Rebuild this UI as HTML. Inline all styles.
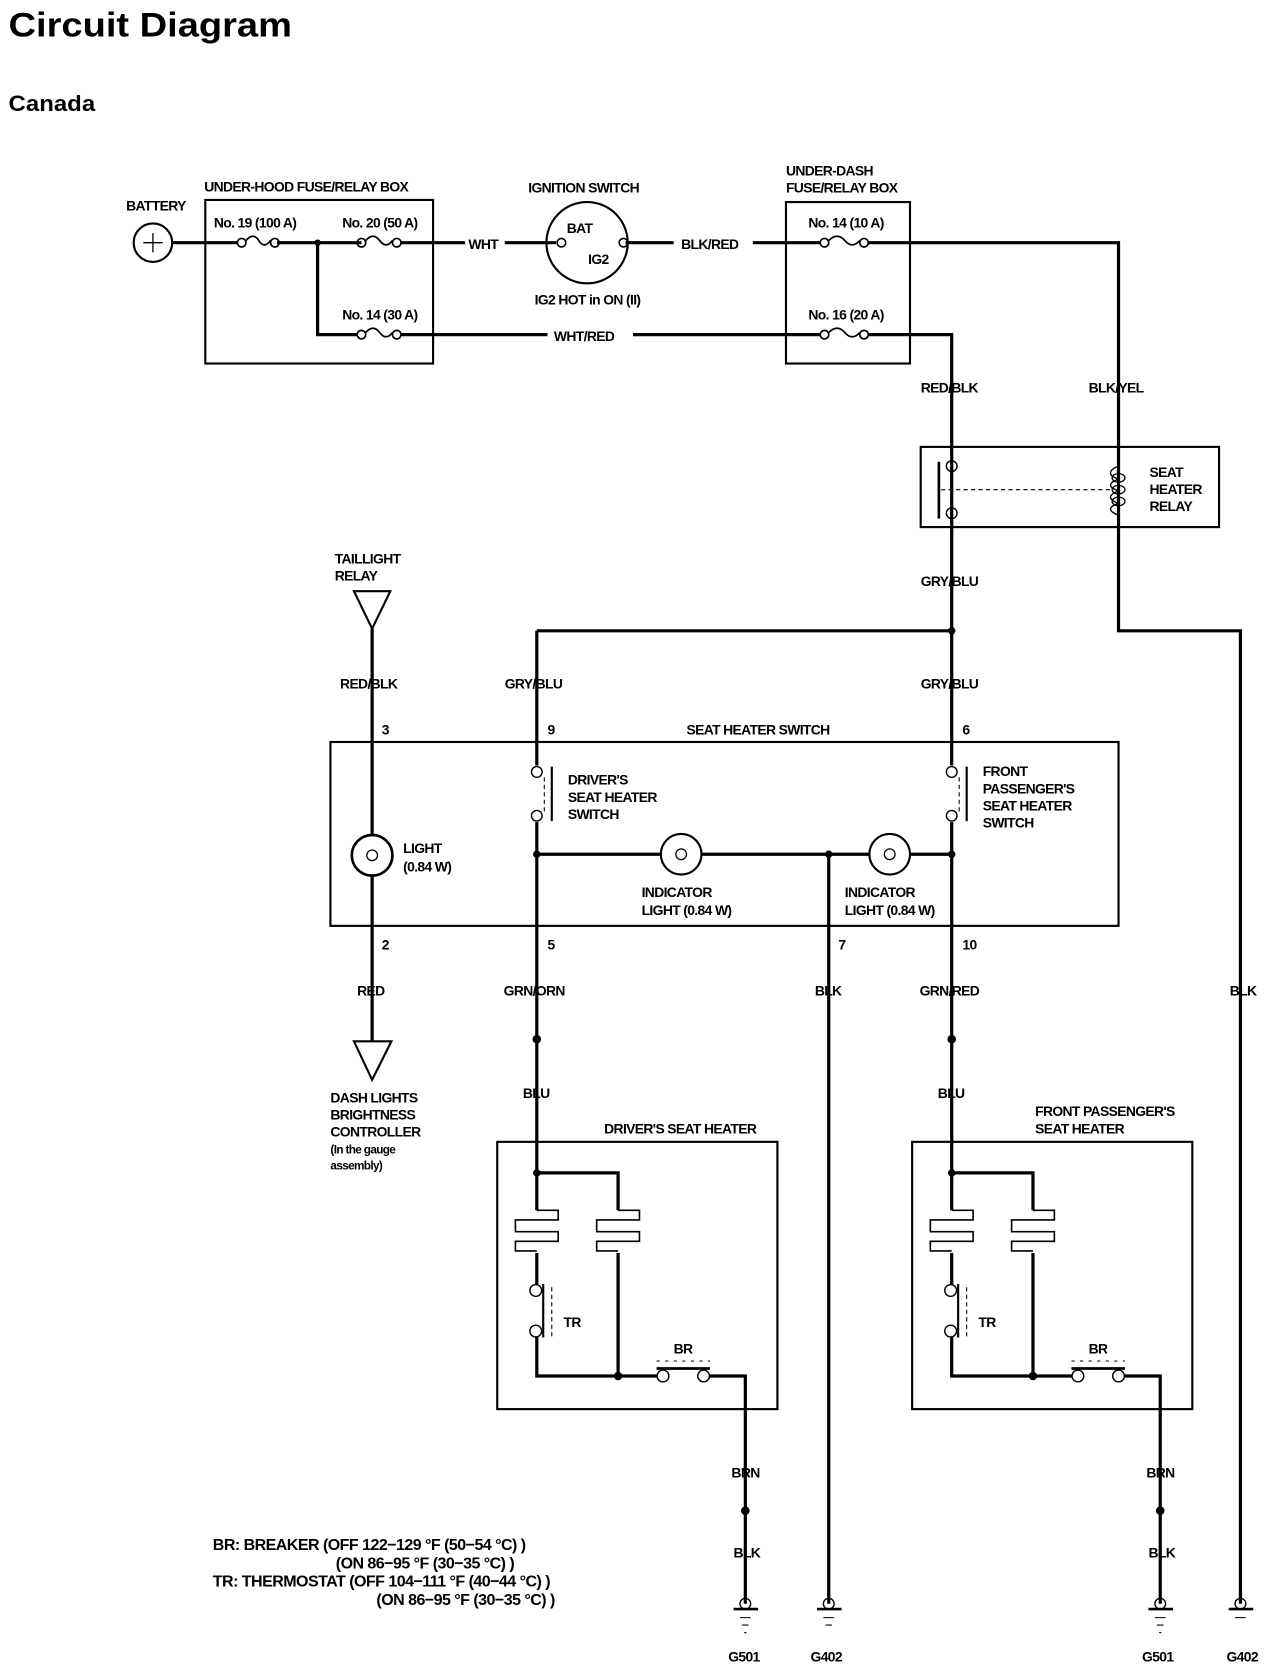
<!DOCTYPE html>
<html><head><meta charset="utf-8"><style>
html,body{margin:0;padding:0;background:#fff;}
svg{display:block;}
text{font-family:"Liberation Sans Narrow","Liberation Sans",sans-serif;font-weight:bold;fill:#000;}
.l{font-size:13px;letter-spacing:-0.6px;}
</style></head><body>
<svg width="1280" height="1670" viewBox="0 0 1197 1562" preserveAspectRatio="none" xmlns="http://www.w3.org/2000/svg">
<g fill="none" stroke="#000">
<text x="8" y="34" style="font-size:32px" textLength="265" lengthAdjust="spacingAndGlyphs" stroke="none">Circuit Diagram</text>
<text x="8" y="104" style="font-size:21px" textLength="81" lengthAdjust="spacingAndGlyphs" stroke="none">Canada</text>

<!-- battery -->
<circle cx="143" cy="227" r="18" stroke-width="2"/>
<path d="M134 227H152M143 218V236" stroke-width="1.2"/>
<path d="M161 227H222M259 227H338M375 227H435" stroke-width="3"/>
<!-- underhood box -->
<rect x="192" y="187" width="213" height="153" stroke-width="2"/>
<!-- fuses -->
<g stroke-width="1.6">
<circle cx="226" cy="227" r="4"/><circle cx="257" cy="227" r="4"/><path d="M230 225q7 -8 12 0t11 0"/>
<circle cx="338" cy="227" r="4"/><circle cx="371" cy="227" r="4"/><path d="M342 225q7 -8 13 0t12 0"/>
<circle cx="338" cy="313" r="4"/><circle cx="371" cy="313" r="4"/><path d="M342 311q7 -8 13 0t12 0"/>
<circle cx="771" cy="227" r="4"/><circle cx="808" cy="227" r="4"/><path d="M775 225q8 -8 15 0t14 0"/>
<circle cx="771" cy="313" r="4"/><circle cx="808" cy="313" r="4"/><path d="M775 311q8 -8 15 0t14 0"/>
</g>
<circle cx="297" cy="227" r="2.5" fill="#000"/>
<path d="M297 227V313H334M375 313H512M592 313H767M812 313H890V590" stroke-width="3"/>
<path d="M472 227H520M585 227H630M704 227H767M812 227H1046V590H1160V1500" stroke-width="3"/>
<!-- ignition -->
<circle cx="549" cy="227" r="38" stroke-width="2"/>
<circle cx="525" cy="227" r="4" stroke-width="1.5"/><circle cx="583" cy="227" r="4" stroke-width="1.5"/>
<!-- underdash box -->
<rect x="735" y="189" width="116" height="151" stroke-width="2"/>
<!-- relay -->
<rect x="861" y="418" width="279" height="75" stroke-width="2"/>
<circle cx="890" cy="436" r="5" stroke-width="1.3"/><circle cx="890" cy="480" r="5" stroke-width="1.3"/>
<path d="M878 432V485" stroke-width="2.5"/>
<path d="M880 458H1040" stroke-width="1" stroke-dasharray="4 3"/>
<path d="M1046 436C1036 440 1036 445 1046 448C1036 452 1036 456 1046 459C1036 463 1036 467 1046 471C1036 474 1036 478 1046 482" stroke-width="1.3"/>
<ellipse cx="1046" cy="447" rx="6" ry="4" stroke-width="1.2"/><ellipse cx="1046" cy="458" rx="6" ry="4" stroke-width="1.2"/><ellipse cx="1046" cy="469" rx="6" ry="4" stroke-width="1.2"/>
<!-- main -->
<path d="M502 590H890" stroke-width="3"/>
<circle cx="890" cy="590" r="3" fill="#000"/>
<path d="M502 590V716M502 769V1095M890 716V590M890 769V1095" stroke-width="3"/>
<!-- taillight -->
<path d="M331 553H365L348 588Z" stroke-width="2"/>
<path d="M348 588V974" stroke-width="3"/>
<path d="M331 974H366L348 1010Z" stroke-width="2"/>
<!-- switch box -->
<rect x="309" y="694" width="737" height="172" stroke-width="2"/>
<circle cx="348" cy="800" r="19" stroke-width="2.5" fill="#fff"/>
<circle cx="348" cy="800" r="5" stroke-width="1.2"/>
<g stroke-width="1.3"><circle cx="502" cy="722" r="5" fill="#fff"/><circle cx="502" cy="763" r="5" fill="#fff"/><circle cx="890" cy="722" r="5" fill="#fff"/><circle cx="890" cy="763" r="5" fill="#fff"/></g>
<path d="M516 717V768M904 717V768" stroke-width="2"/>
<path d="M509 727V760M897 727V760" stroke-width="1" stroke-dasharray="4 3"/>
<path d="M502 799H890" stroke-width="3"/>
<circle cx="502" cy="799" r="3" fill="#000"/><circle cx="775" cy="799" r="3" fill="#000"/><circle cx="890" cy="799" r="3" fill="#000"/>
<circle cx="637" cy="799" r="19" stroke-width="2" fill="#fff"/><circle cx="637" cy="799" r="5" stroke-width="1.2"/>
<circle cx="832" cy="799" r="19" stroke-width="2" fill="#fff"/><circle cx="832" cy="799" r="5" stroke-width="1.2"/>
<path d="M775 799V1500" stroke-width="3"/>
<circle cx="502" cy="972" r="3.5" fill="#000"/><circle cx="890" cy="972" r="3.5" fill="#000"/>

<!-- heaters -->
<g id="h">
<rect x="465" y="1068" width="262" height="250" stroke-width="2"/>
<circle cx="502" cy="1097" r="3" fill="#000"/>
<path d="M502 1095V1132M502 1097H578V1132M502 1172V1202M502 1251V1287H614M578 1172V1287M662 1287H697V1500" stroke-width="3"/>
<path d="M502 1132H522V1141H482V1152H522V1161H482V1170H502M578 1132H598V1141H558V1152H598V1161H558V1170H578" stroke-width="1.5"/>
<circle cx="578" cy="1287" r="3.5" fill="#000"/>
<circle cx="501" cy="1207" r="5.5" stroke-width="1.3"/><circle cx="501" cy="1245" r="5.5" stroke-width="1.3"/>
<path d="M508 1201V1251" stroke-width="2"/>
<path d="M516 1204V1252" stroke-width="1" stroke-dasharray="4 3"/>
<circle cx="620" cy="1287" r="5.5" stroke-width="1.3" fill="#fff"/><circle cx="658" cy="1287" r="5.5" stroke-width="1.3" fill="#fff"/>
<path d="M614 1280H664" stroke-width="2.5"/>
<path d="M614 1273H664" stroke-width="1" stroke-dasharray="3 5"/>
<circle cx="697" cy="1413" r="3.5" fill="#000"/>
<circle cx="697" cy="1500" r="5" stroke-width="1.3"/>
<path d="M686 1505H709" stroke-width="2.5"/>
<path d="M692 1513H702M694 1520H700M696 1527H698" stroke-width="1"/>
</g>
<use href="#h" x="388"/>
<circle cx="775" cy="1500" r="5" stroke-width="1.3"/><path d="M764 1505H787" stroke-width="2.5"/><path d="M770 1513H780M772 1520H778" stroke-width="1"/>
<circle cx="1160" cy="1500" r="5" stroke-width="1.3"/><path d="M1149 1505H1172" stroke-width="2.5"/><path d="M1155 1513H1165" stroke-width="1"/>
</g>

<g class="l">
<text x="191" y="179">UNDER-HOOD FUSE/RELAY BOX</text>
<text x="118" y="197">BATTERY</text>
<text x="200" y="213">No. 19 (100 A)</text>
<text x="320" y="213">No. 20 (50 A)</text>
<text x="320" y="299">No. 14 (30 A)</text>
<text x="438" y="233">WHT</text>
<text x="494" y="180">IGNITION SWITCH</text>
<text x="530" y="218">BAT</text>
<text x="550" y="247">IG2</text>
<text x="500" y="285">IG2 HOT in ON (II)</text>
<text x="637" y="233">BLK/RED</text>
<text x="518" y="319">WHT/RED</text>
<text x="735" y="164">UNDER-DASH</text>
<text x="735" y="180">FUSE/RELAY BOX</text>
<text x="756" y="213">No. 14 (10 A)</text>
<text x="756" y="299">No. 16 (20 A)</text>
<text x="861" y="367">RED/BLK</text>
<text x="1018" y="367">BLK/YEL</text>
<text x="1075" y="446">SEAT</text>
<text x="1075" y="462">HEATER</text>
<text x="1075" y="478">RELAY</text>
<text x="861" y="548">GRY/BLU</text>
<text x="313" y="527">TAILLIGHT</text>
<text x="313" y="543">RELAY</text>
<text x="318" y="644">RED/BLK</text>
<text x="472" y="644">GRY/BLU</text>
<text x="861" y="644">GRY/BLU</text>
<text x="357" y="687">3</text>
<text x="512" y="687">9</text>
<text x="642" y="687">SEAT HEATER SWITCH</text>
<text x="900" y="687">6</text>
<text x="531" y="734">DRIVER'S</text>
<text x="531" y="750">SEAT HEATER</text>
<text x="531" y="766">SWITCH</text>
<text x="919" y="726">FRONT</text>
<text x="919" y="742">PASSENGER'S</text>
<text x="919" y="758">SEAT HEATER</text>
<text x="919" y="774">SWITCH</text>
<text x="377" y="798">LIGHT</text>
<text x="377" y="815">(0.84 W)</text>
<text x="600" y="839">INDICATOR</text>
<text x="600" y="856">LIGHT (0.84 W)</text>
<text x="790" y="839">INDICATOR</text>
<text x="790" y="856">LIGHT (0.84 W)</text>
<text x="357" y="888">2</text>
<text x="512" y="888">5</text>
<text x="784" y="888">7</text>
<text x="900" y="888">10</text>
<text x="334" y="931">RED</text>
<text x="471" y="931">GRN/ORN</text>
<text x="762" y="931">BLK</text>
<text x="860" y="931">GRN/RED</text>
<text x="1150" y="931">BLK</text>
<text x="309" y="1031">DASH LIGHTS</text>
<text x="309" y="1047">BRIGHTNESS</text>
<text x="309" y="1063">CONTROLLER</text>
<text x="309" y="1079" style="font-size:11px">(In the gauge</text>
<text x="309" y="1094" style="font-size:11px">assembly)</text>
<text x="489" y="1027">BLU</text>
<text x="877" y="1027">BLU</text>
<text x="565" y="1060">DRIVER'S SEAT HEATER</text>
<text x="968" y="1044">FRONT PASSENGER'S</text>
<text x="968" y="1060">SEAT HEATER</text>
<text x="527" y="1241">TR</text>
<text x="915" y="1241">TR</text>
<text x="630" y="1266">BR</text>
<text x="1018" y="1266">BR</text>
<text x="684" y="1382">BRN</text>
<text x="1072" y="1382">BRN</text>
<text x="686" y="1457">BLK</text>
<text x="1074" y="1457">BLK</text>
<text x="681" y="1554">G501</text>
<text x="758" y="1554">G402</text>
<text x="1068" y="1554">G501</text>
<text x="1147" y="1554">G402</text>
</g>
<g style="font-size:15px;letter-spacing:-0.5px">
<text x="199" y="1450">BR: BREAKER (OFF 122−129 °F (50−54 °C) )</text>
<text x="314" y="1467">(ON 86−95 °F (30−35 °C) )</text>
<text x="199" y="1484">TR: THERMOSTAT (OFF 104−111 °F (40−44 °C) )</text>
<text x="352" y="1501">(ON 86−95 °F (30−35 °C) )</text>
</g>
</svg>
</body></html>
